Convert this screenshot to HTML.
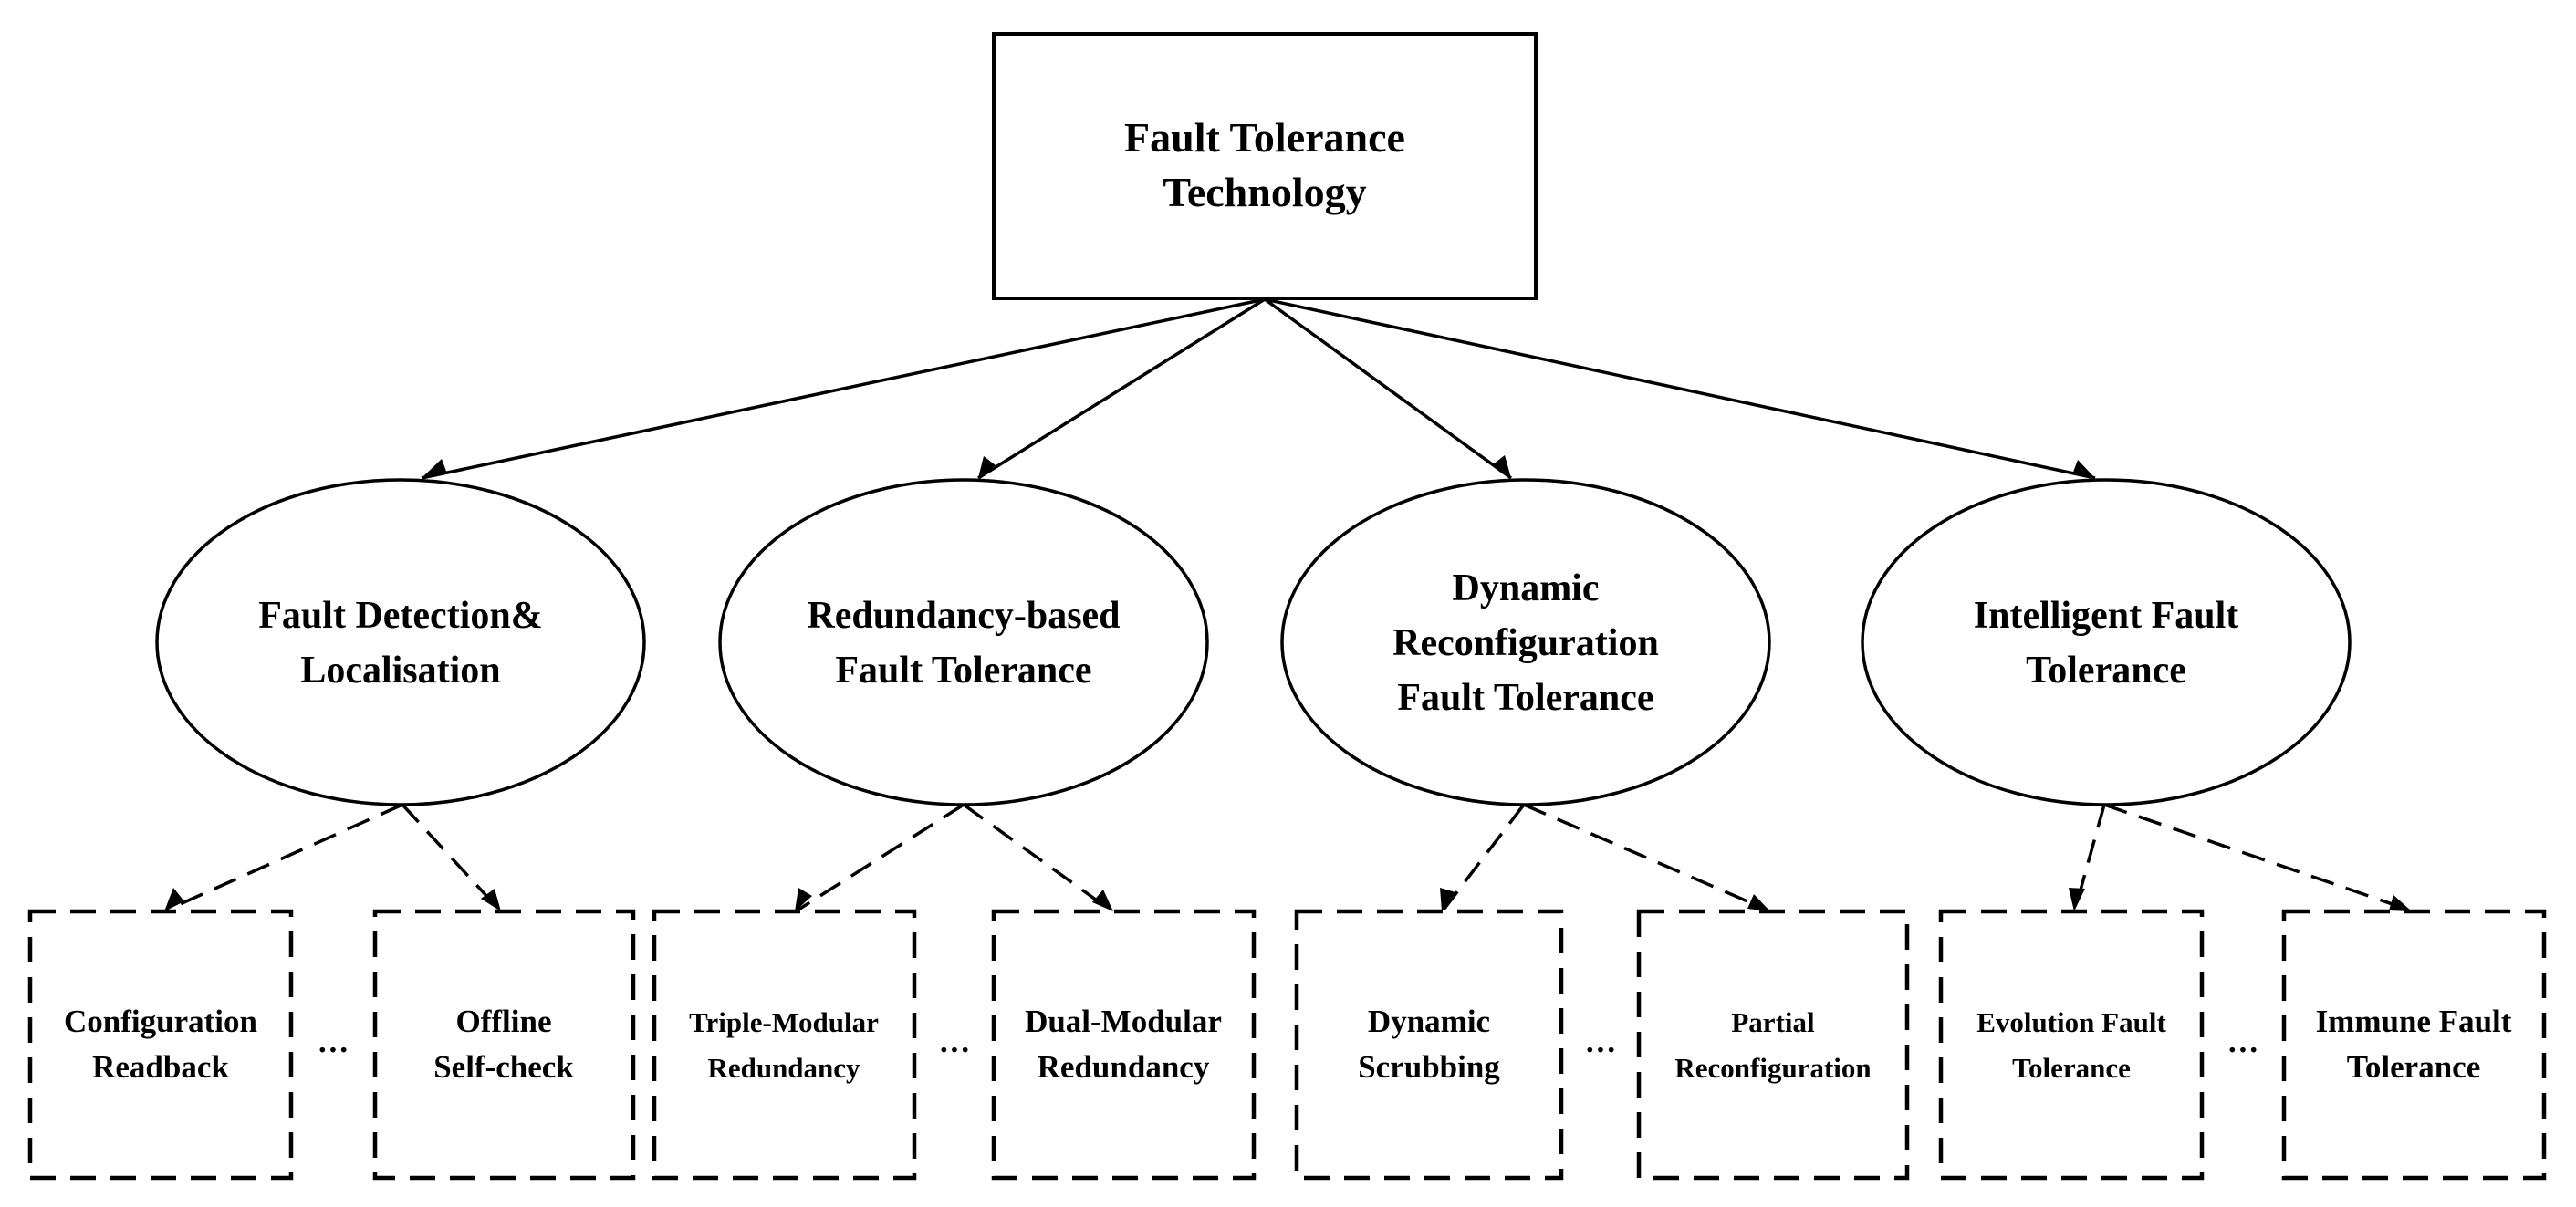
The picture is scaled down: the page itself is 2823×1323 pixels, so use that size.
<!DOCTYPE html>
<html><head><meta charset="utf-8"><style>html,body{margin:0;padding:0;background:#fff}svg{display:block}</style></head>
<body>
<svg width="2823" height="1323" viewBox="0 0 2823 1323" xmlns="http://www.w3.org/2000/svg" font-family="'Liberation Serif', serif" font-weight="bold" text-anchor="middle">
<rect x="1089" y="37" width="594" height="290" fill="#fff" stroke="#000" stroke-width="4"/>
<text x="1386" y="166" font-size="46">Fault Tolerance</text>
<text x="1386" y="226" font-size="46">Technology</text>
<g stroke="#000" stroke-width="3.5" fill="none">
<line x1="1386" y1="328" x2="462" y2="524"/>
<line x1="1386" y1="328" x2="1072" y2="524"/>
<line x1="1386" y1="328" x2="1656" y2="524"/>
<line x1="1386" y1="328" x2="2296" y2="524"/>
</g>
<g fill="#000">
<path d="M462,524 L484,503 L490,519 z"/>
<path d="M1072,524 L1078,500 L1091,510 z"/>
<path d="M1656,524 L1636,509 L1649,499 z"/>
<path d="M2296,524 L2271,520 L2277,504 z"/>
</g>
<g fill="#fff" stroke="#000" stroke-width="3.5">
<ellipse cx="439" cy="704" rx="267" ry="178"/>
<ellipse cx="1056" cy="704" rx="267" ry="178"/>
<ellipse cx="1672" cy="704" rx="267" ry="178"/>
<ellipse cx="2308" cy="704" rx="267" ry="178"/>
</g>
<g font-size="42">
<text x="439" y="688">Fault Detection&amp;</text><text x="439" y="748">Localisation</text>
<text x="1056" y="688">Redundancy-based</text><text x="1056" y="748">Fault Tolerance</text>
<text x="1672" y="658">Dynamic</text><text x="1672" y="718">Reconfiguration</text><text x="1672" y="778">Fault Tolerance</text>
<text x="2308" y="688">Intelligent Fault</text><text x="2308" y="748">Tolerance</text>
</g>
<g stroke="#000" stroke-width="3.5" fill="none" stroke-dasharray="26,14">
<line x1="441" y1="882" x2="184" y2="997"/>
<line x1="441" y1="882" x2="547" y2="997"/>
<line x1="1056" y1="882" x2="875" y2="997"/>
<line x1="1056" y1="882" x2="1216" y2="997"/>
<line x1="1670" y1="882" x2="1582" y2="997"/>
<line x1="1670" y1="882" x2="1936" y2="997"/>
<line x1="2306" y1="882" x2="2274" y2="997"/>
<line x1="2306" y1="882" x2="2639" y2="997"/>
</g>
<g fill="#000">
<path d="M180,999 L190,973 L202,988 z"/>
<path d="M549,999 L527,985 L542,974 z"/>
<path d="M871,999 L875,973 L890,982 z"/>
<path d="M1220,999 L1197,989 L1209,975 z"/>
<path d="M1580,999 L1578,973 L1595,978 z"/>
<path d="M1940,999 L1915,996 L1922,980 z"/>
<path d="M2273,999 L2267,973 L2285,974 z"/>
<path d="M2643,999 L2618,998 L2623,981 z"/>
</g>
<g fill="none" stroke="#000" stroke-width="4.5" stroke-dasharray="28,16">
<rect x="33" y="999" width="286" height="292"/>
<rect x="411" y="999" width="283" height="292"/>
<rect x="717" y="999" width="285" height="292"/>
<rect x="1089" y="999" width="285" height="292"/>
<rect x="1421" y="999" width="290" height="292"/>
<rect x="1796" y="999" width="294" height="292"/>
<rect x="2127" y="999" width="286" height="292"/>
<rect x="2503" y="999" width="285" height="292"/>
</g>
<g font-size="35">
<text x="176" y="1131">Configuration</text><text x="176" y="1181">Readback</text>
<text x="552" y="1131">Offline</text><text x="552" y="1181">Self-check</text>
<text x="859" y="1131" font-size="31">Triple-Modular</text><text x="859" y="1181" font-size="31">Redundancy</text>
<text x="1231" y="1131">Dual-Modular</text><text x="1231" y="1181">Redundancy</text>
<text x="1566" y="1131">Dynamic</text><text x="1566" y="1181">Scrubbing</text>
<text x="1943" y="1131" font-size="31">Partial</text><text x="1943" y="1181" font-size="31">Reconfiguration</text>
<text x="2270" y="1131" font-size="31">Evolution Fault</text><text x="2270" y="1181" font-size="31">Tolerance</text>
<text x="2645" y="1131">Immune Fault</text><text x="2645" y="1181">Tolerance</text>
<text x="365" y="1162">···</text>
<text x="1046" y="1162">···</text>
<text x="1754" y="1162">···</text>
<text x="2458" y="1162">···</text>
</g>
</svg>
</body></html>
